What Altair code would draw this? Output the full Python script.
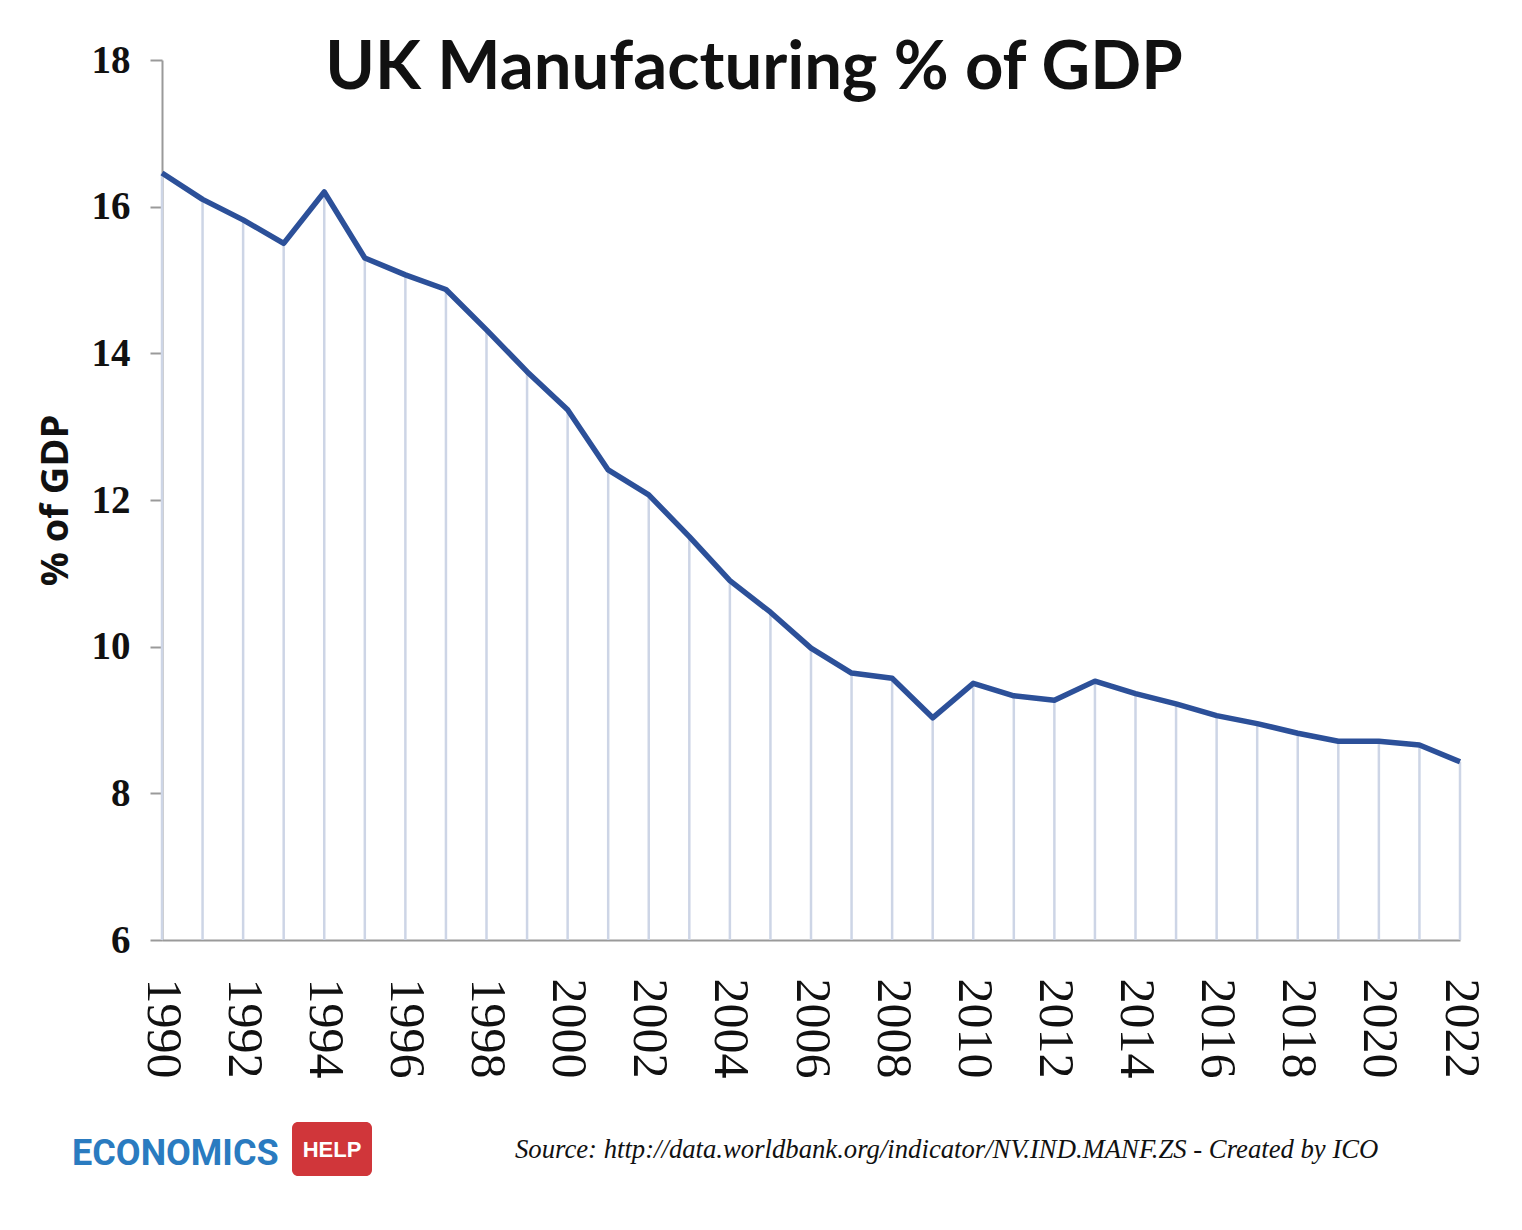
import altair as alt
import pandas as pd

years = list(range(1990, 2023))
values = [16.46, 16.10, 15.82, 15.50, 16.20, 15.30, 15.07, 14.87, 14.32, 13.75,
          13.23, 12.41, 12.07, 11.50, 10.90, 10.47, 9.98, 9.64, 9.57, 9.03,
          9.50, 9.33, 9.27, 9.53, 9.36, 9.22, 9.06, 8.95, 8.82, 8.71,
          8.71, 8.66, 8.43]
tick_years = list(range(1990, 2023, 2))
y_ticks = [6, 8, 10, 12, 14, 16, 18]

title_text = "UK Manufacturing % of GDP"
y_title = "% of GDP"
logo_text = "ECONOMICS"
logo_tag = "HELP"
source_text = "Source: http://data.worldbank.org/indicator/NV.IND.MANF.ZS - Created by ICO"

df = pd.DataFrame({"year": years, "value": values})
one = pd.DataFrame({"k": [0]})

x_enc = alt.X("year:Q", scale=alt.Scale(domain=[1990, 2022], nice=False),
              axis=alt.Axis(values=tick_years, format="d", labelAngle=90, ticks=False,
                            grid=False, domainColor="#9a9a9a", domainWidth=2,
                            labelFont="Liberation Serif", labelFontSize=50,
                            labelFontWeight="normal", labelColor="#111",
                            labelPadding=38, title=None, labelOverlap=False))
y_enc = alt.Y("value:Q", scale=alt.Scale(domain=[6, 18], nice=False, zero=False),
              axis=alt.Axis(values=y_ticks, format="d", grid=False, tickSize=12,
                            tickColor="#9a9a9a", tickWidth=2, domainColor="#9a9a9a",
                            domainWidth=2, labelFont="Liberation Serif", labelFontSize=39,
                            labelFontWeight="bold", labelColor="#111", labelPadding=20,
                            title=y_title, titleFont="Open Sans", titleFontSize=38,
                            titleFontWeight="bold", titleColor="#111", titlePadding=16))

base = alt.Chart(df)

rules = base.mark_rule(color="#cdd5e6", strokeWidth=2.5).encode(
    x=x_enc, y=y_enc, y2=alt.datum(6)
)

line = base.mark_line(color="#2C5099", strokeWidth=5.5, strokeJoin="round").encode(
    x="year:Q", y="value:Q"
)

logo = alt.Chart(one).mark_text(
    text=logo_text, font="Roboto", fontSize=36, fontWeight="bold",
    color="#2a7bc0", align="left", baseline="middle"
).encode(x=alt.value(-90), y=alt.value(1094))

tag = alt.Chart(one).mark_rect(color="#d0363a", cornerRadius=6).encode(
    x=alt.value(130), x2=alt.value(210), y=alt.value(1062), y2=alt.value(1116)
)

tag_text = alt.Chart(one).mark_text(
    text=logo_tag, font="Liberation Sans", fontSize=22, fontWeight="bold",
    color="white", align="center", baseline="middle"
).encode(x=alt.value(170), y=alt.value(1090))

source = alt.Chart(one).mark_text(
    text=source_text, font="Liberation Serif", fontSize=26.7, fontStyle="italic",
    color="#111", align="left", baseline="middle"
).encode(x=alt.value(353), y=alt.value(1090))

chart = alt.layer(rules, line, logo, tag, tag_text, source).properties(
    width=1298, height=880,
    background="white",
    autosize=alt.AutoSizeParams(type="none"),
    padding={"left": 154, "top": 52, "right": 54, "bottom": 262},
    title=alt.TitleParams(title_text, font="Lato", fontSize=67, fontWeight="bold",
                          color="#111", anchor="middle", dx=-57, offset=-62)
).configure_view(stroke=None)

chart.save("out.html", embed_options={"renderer": "svg", "actions": False})
